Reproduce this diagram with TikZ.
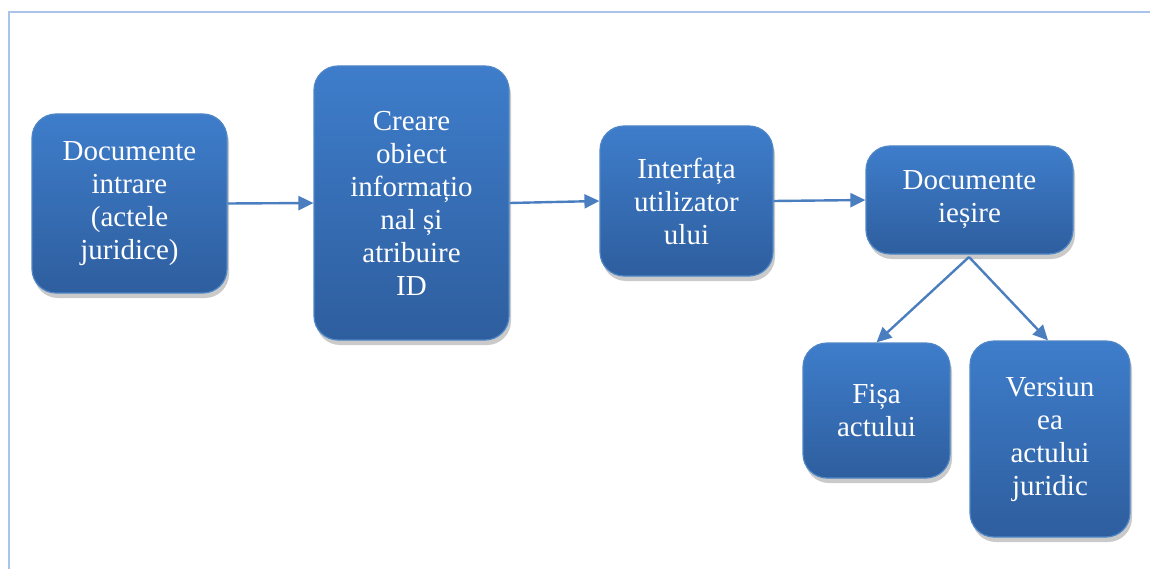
\documentclass[tikz,border=0pt]{standalone}
\usepackage{fontspec}
\setmainfont{Liberation Serif}
\usetikzlibrary{shadows,arrows.meta}
\definecolor{boxtop}{HTML}{3E7DCB}
\definecolor{boxbot}{HTML}{2E5E9E}
\definecolor{boxedge}{HTML}{4F86C6}
\definecolor{arrowc}{HTML}{4A7EBF}
\definecolor{framec}{HTML}{A9C4E8}
\tikzset{
  blockbox/.style={draw=boxedge, line width=1.2pt, rounded corners=24pt,
    top color=boxtop, bottom color=boxbot, text=white, align=center,
    font=\fontsize{29}{33}\selectfont, inner sep=0pt,
    drop shadow={shadow xshift=2pt, shadow yshift=-5pt, opacity=0.35, fill=black!60}},
  flow/.style={draw=arrowc, line width=2.4pt, -{Triangle[length=15pt,width=14pt]}},
  framel/.style={draw=framec, line width=2.5pt}
}
\begin{document}
\begin{tikzpicture}[x=1pt,y=-1pt]
\useasboundingbox (0,0) rectangle (1150,569);
\coordinate (f1) at (9,569);
\coordinate (f2) at (9,12);
\coordinate (f3) at (1150,12);
\draw[framel] (f1) -- (f2) -- (f3);
\node[blockbox, minimum width=195pt, minimum height=179pt] (b1) at (129.5,203.5)
  {Documente\\intrare\\(actele\\juridice)};
\node[blockbox, minimum width=195pt, minimum height=274pt] (b2) at (411.5,203)
  {Creare\\obiect\\informațio\\nal și\\atribuire\\ID};
\node[blockbox, minimum width=173pt, minimum height=150pt] (b3) at (686.5,201)
  {Interfața\\utilizator\\ului};
\node[blockbox, minimum width=207pt, minimum height=108pt] (b4) at (969.5,200)
  {Documente\\ieșire};
\node[blockbox, minimum width=147pt, minimum height=135pt] (b5) at (876.5,410.5)
  {Fișa\\actului};
\node[blockbox, minimum width=160pt, minimum height=196pt] (b6) at (1050,439)
  {Versiun\\ea\\actului\\juridic};
\coordinate (s4) at (969,257);
\draw[flow] (b1.east) -- (b2.west);
\draw[flow] (b2.east) -- (b3.west);
\draw[flow] (b3.east) -- (b4.west);
\draw[flow] (s4) -- (b5.north);
\draw[flow] (s4) -- ([xshift=-2pt]b6.north);
\end{tikzpicture}
\end{document}
